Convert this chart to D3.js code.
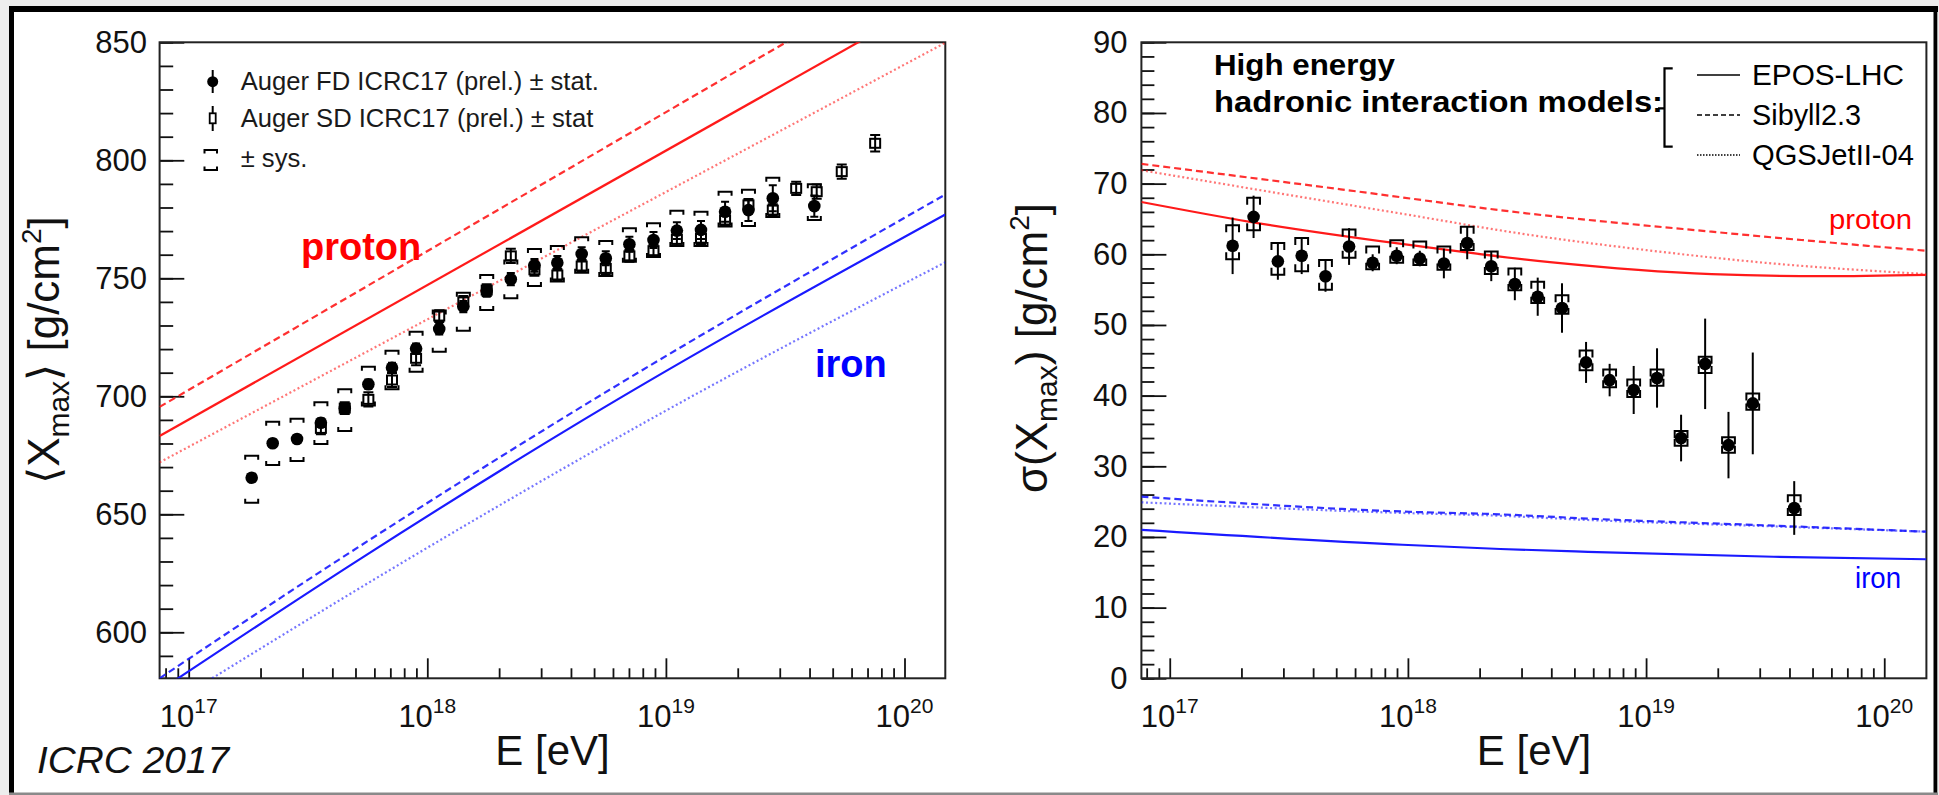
<!DOCTYPE html>
<html><head><meta charset="utf-8">
<script src="https://cdn.jsdelivr.net/npm/d3@7"></script>
<style>
html,body{margin:0;padding:0;background:#fff;}
svg{display:block;}
text{font-family:"Liberation Sans", Arial, Helvetica, sans-serif;}
</style></head><body>
<svg id="c" width="1939" height="795"></svg>
<script>
// ---------------- DATA ----------------
// log10(E/eV) of the FD energy bins (shared by both panels)
const lgE = [17.264,17.352,17.454,17.554,17.654,17.753,17.852,17.953,18.050,18.151,18.249,18.350,18.449,18.545,18.647,18.748,18.847,18.948,19.046,19.147,19.248,19.346,19.448,19.622];
// <Xmax> FD
const fdXmax     = [665.5,680.1,681.9,688.8,694.9,705.1,712.1,720.2,728.5,738.0,744.7,749.6,755.5,756.6,760.3,758.5,764.4,766.2,770.2,770.5,778.2,778.9,783.9,780.6];
const fdXmaxStat = [1.5,1.6,1.7,1.8,2.0,2.0,2.1,2.2,2.3,2.4,2.5,2.6,2.7,2.8,2.9,3.0,3.2,3.4,3.6,3.8,4.2,4.6,5.5,4.5];
const fdXmaxSysUp   = [9.3,9.1,8.6,8.7,8.1,7.4,7.2,7.2,7.8,5.9,6.7,7.9,6.9,7.1,7.1,7.3,6.8,7.1,8.4,7.7,8.5,8.6,8.7,9.2];
const fdXmaxSysDown = [10.6,9.2,9.3,9.0,9.6,9.0,9.1,9.8,9.6,10.2,8.1,8.1,8.8,8.0,7.9,7.5,7.4,7.2,6.5,6.8,6.3,6.7,7.9,5.9];
// <Xmax> SD
const sdLgE  = [17.554,17.654,17.753,17.852,17.953,18.050,18.151,18.249,18.350,18.449,18.545,18.647,18.748,18.847,18.948,19.046,19.147,19.248,19.346,19.448,19.546,19.632,19.737,19.877];
const sdXmax = [686.4,695.0,698.7,706.9,716.1,734.0,740.0,745.0,759.5,753.6,751.4,755.2,754.2,759.5,761.7,766.5,767.0,774.7,781.1,778.9,788.1,786.7,795.2,807.2];
const sdXmaxStat = [2.5,2.5,3.0,3.0,3.0,2.5,2.5,2.5,3.0,2.5,2.5,2.5,2.5,2.5,2.5,2.5,2.5,2.5,2.5,2.5,2.8,3.0,3.0,3.5];
// sigma(Xmax) FD
const fdSigma     = [61.2,65.3,59.0,59.8,56.9,61.1,58.8,59.8,59.4,58.7,61.6,58.3,55.8,54.0,52.4,44.7,42.2,40.8,42.5,34.0,44.5,33.0,38.9,24.1];
const fdSigmaStat = [4.0,3.0,2.6,2.6,2.2,2.6,1.2,1.2,1.1,2.1,2.3,2.1,2.3,2.7,3.5,2.9,2.3,3.4,4.2,3.3,6.4,4.7,7.2,3.8];
const fdSigmaSysUp   = [2.9,2.7,2.6,2.5,2.3,2.4,2.3,2.2,2.4,2.4,2.3,2.1,2.2,2.1,1.8,1.7,1.5,1.5,1.2,1.0,1.0,1.1,1.4,1.8];
const fdSigmaSysDown = [1.9,1.9,1.9,2.2,1.9,1.6,0.9,1.0,0.9,0.9,1.0,1.1,0.9,0.9,0.8,1.1,1.0,1.0,1.1,1.1,1.3,1.1,0.9,1.0];
// model predictions: <Xmax> (pairs of lgE, value)
const xmaxEposP   = [[16.878,683.2],[20.171,870.8]];
const xmaxSibyllP = [[16.878,695.5],[20.171,889.3]];
const xmaxQgsP    = [[16.878,672.0],[20.171,849.8]];
const xmaxEposFe   = [[16.878,575.3],[17.711,630.6],[18.654,690.0],[20.171,777.0]];
const xmaxSibyllFe = [[16.878,580.5],[17.627,630.6],[18.557,690.0],[20.171,785.5]];
const xmaxQgsFe    = [[17.098,580.5],[17.913,630.6],[18.948,691.0],[20.171,756.8]];
// model predictions: sigma(Xmax)
const sigEposP   = [[16.881,67.4],[17.337,64.6],[17.966,61.5],[18.596,58.9],[19.275,57.2],[19.742,56.9],[20.177,57.1]];
const sigSibyllP = [[16.881,72.8],[17.718,69.2],[18.497,65.8],[19.275,63.2],[19.794,61.6],[20.177,60.5]];
const sigQgsP    = [[16.881,71.9],[17.500,68.4],[18.000,65.6],[18.500,62.8],[19.000,60.6],[19.500,58.8],[20.177,57.2]];
const sigEposFe   = [[16.881,21.0],[17.977,18.9],[18.388,18.3],[18.756,17.9],[19.535,17.2],[20.177,16.85]];
const sigSibyllFe = [[16.881,25.7],[17.977,23.6],[18.388,23.2],[18.756,22.6],[19.535,21.6],[20.177,20.75]];
const sigQgsFe    = [[16.881,24.9],[17.977,23.4],[18.388,23.0],[18.756,22.4],[19.535,21.5],[20.177,20.75]];
// tick labels
const xMajorExp = [17,18,19,20];
const xmaxTicks = [600,650,700,750,800,850];
const sigmaTicks = [0,10,20,30,40,50,60,70,80,90];

// ---------------- SETUP ----------------
const W=1939,H=795;
const svg=d3.select("#c");
const FONT='"Liberation Sans", Arial, Helvetica, sans-serif';
svg.append("rect").attr("width",W).attr("height",H).attr("fill","#ededed");
svg.append("rect").attr("x",12).attr("y",10).attr("width",1923).attr("height",783).attr("fill","#fff");
svg.append("rect").attr("x",9).attr("y",6).attr("width",1929).attr("height",6).attr("fill","#000");
svg.append("rect").attr("x",9).attr("y",6).attr("width",5).attr("height",789).attr("fill","#000");
svg.append("rect").attr("x",1933.5).attr("y",6).attr("width",3.8).attr("height",789).attr("fill","#000");
svg.append("rect").attr("x",9).attr("y",792.5).attr("width",1929).attr("height",2.5).attr("fill","#8a8a8a");

const RED="#ff1a1a", BLUE="#1a1aff";
const styles = {
  solid:  {dash:null, w:2.2, op:1},
  dashed: {dash:"7,4", w:2.2, op:0.9},
  dotted: {dash:"2,2.6", w:2.2, op:0.6}
};

function makePanel(p){
  const g=svg.append("g");
  const x=d3.scaleLog().domain([10**p.lx0,10**p.lx1]).range([p.x0,p.x1]);
  const y=d3.scaleLinear().domain(p.yd).range([p.y1,p.y0]);
  const clipId="clip"+p.id;
  svg.append("clipPath").attr("id",clipId).append("rect")
     .attr("x",p.x0).attr("y",p.y0).attr("width",p.x1-p.x0).attr("height",p.y1-p.y0);
  const majors = xMajorExp.map(e=>10**e);
  const minors=[];
  for(let e=16;e<=20;e++) for(let k=2;k<=9;k++){const v=k*10**e; if(v>=10**p.lx0 && v<=10**p.lx1) minors.push(v);}
  const ax=g.append("g").attr("transform",`translate(0,${p.y1})`);
  ax.call(d3.axisBottom(x).tickValues(majors).tickSize(-20).tickSizeOuter(0).tickFormat(()=>""));
  ax.append("g").call(d3.axisBottom(x).tickValues(minors).tickSize(-10).tickSizeOuter(0).tickFormat(()=>""));
  const ay=g.append("g").attr("transform",`translate(${p.x0},0)`);
  ay.call(d3.axisLeft(y).tickValues(p.yTicks).tickSize(-p.majorLen).tickSizeOuter(0).tickPadding(p.labPad).tickFormat(d3.format("d")));
  ay.append("g").call(d3.axisLeft(y).tickValues(d3.range(Math.ceil(p.yd[0]/p.yMinor)*p.yMinor,p.yd[1]+0.001,p.yMinor)).tickSize(-p.minorLen).tickSizeOuter(0).tickFormat(()=>""));
  g.selectAll(".domain").remove();
  g.selectAll(".tick line").attr("stroke","#111").attr("stroke-width",1.8);
  ay.selectAll(".tick text").attr("font-family",FONT).attr("font-size",31).attr("fill","#111");
  xMajorExp.forEach(e=>{
    const t=g.append("text").attr("x",x(10**e)).attr("y",727).attr("text-anchor","middle")
      .attr("font-size",31).attr("fill","#111");
    t.append("tspan").text("10");
    t.append("tspan").attr("font-size",21).attr("dy",-14).text(String(e));
  });
  g.append("rect").attr("x",p.x0).attr("y",p.y0).attr("width",p.x1-p.x0).attr("height",p.y1-p.y0)
    .attr("fill","none").attr("stroke","#222").attr("stroke-width",2);
  const line=d3.line().x(d=>x(10**d[0])).y(d=>y(d[1])).curve(d3.curveMonotoneX);
  const lg=g.append("g").attr("clip-path",`url(#${clipId})`);
  p.models.forEach(m=>{
    const s=styles[m.style];
    lg.append("path").datum(m.data).attr("d",line).attr("fill","none")
      .attr("stroke",m.color).attr("stroke-width",s.w).attr("stroke-opacity",s.op)
      .attr("stroke-dasharray",s.dash);
  });
  return {g,x,y,lg};
}

// ---------------- LEFT PANEL ----------------
const L=makePanel({id:"L",x0:159.6,x1:945.3,y0:42.3,y1:678.3,lx0:16.878,lx1:20.171,
  yd:[580.5,850],yTicks:xmaxTicks,yMinor:10,majorLen:24.7,minorLen:13.6,labPad:12.6,
  models:[
    {data:xmaxEposP,color:RED,style:"solid"},{data:xmaxSibyllP,color:RED,style:"dashed"},{data:xmaxQgsP,color:RED,style:"dotted"},
    {data:xmaxEposFe,color:BLUE,style:"solid"},{data:xmaxSibyllFe,color:BLUE,style:"dashed"},{data:xmaxQgsFe,color:BLUE,style:"dotted"}
  ]});
{
  const {g,x,y}=L;
  const dg=g.append("g").attr("stroke","#000").attr("stroke-width",2).attr("fill","none");
  lgE.forEach((e,i)=>{
    const cx=x(10**e), hw=6.5, tk=4;
    const yt=y(fdXmax[i]+fdXmaxSysUp[i]), yb=y(fdXmax[i]-fdXmaxSysDown[i]);
    dg.append("path").attr("d",`M${cx-hw},${yt+tk}V${yt}H${cx+hw}V${yt+tk}`);
    dg.append("path").attr("d",`M${cx-hw},${yb-tk}V${yb}H${cx+hw}V${yb-tk}`);
  });
  lgE.forEach((e,i)=>{
    const cx=x(10**e), cy=y(fdXmax[i]);
    const y1=y(fdXmax[i]+fdXmaxStat[i]), y2=y(fdXmax[i]-fdXmaxStat[i]);
    dg.append("path").attr("d",`M${cx},${y1}V${y2}M${cx-4},${y1}H${cx+4}M${cx-4},${y2}H${cx+4}`);
    dg.append("circle").attr("cx",cx).attr("cy",cy).attr("r",6.3).attr("fill","#000").attr("stroke","none");
  });
  sdLgE.forEach((e,i)=>{
    const cx=x(10**e), cy=y(sdXmax[i]);
    const y1=y(sdXmax[i]+sdXmaxStat[i]), y2=y(sdXmax[i]-sdXmaxStat[i]);
    dg.append("path").attr("d",`M${cx},${y1}V${y2}M${cx-5},${y1}H${cx+5}M${cx-5},${y2}H${cx+5}`);
    dg.append("rect").attr("x",cx-5).attr("y",cy-4.5).attr("width",10).attr("height",9).attr("fill","none");
  });
  const lgd=g.append("g");
  lgd.append("line").attr("x1",212.7).attr("x2",212.7).attr("y1",70).attr("y2",93).attr("stroke","#000").attr("stroke-width",2);
  lgd.append("circle").attr("cx",212.7).attr("cy",81.7).attr("r",5.5).attr("fill","#000");
  lgd.append("line").attr("x1",212.7).attr("x2",212.7).attr("y1",106).attr("y2",131).attr("stroke","#000").attr("stroke-width",2);
  lgd.append("rect").attr("x",209.7).attr("y",113.3).attr("width",6).attr("height",10).attr("fill","#fff").attr("stroke","#000").attr("stroke-width",1.8);
  lgd.append("path").attr("d","M204.5,153.5V150H217V153.5M204.5,166.5V170H217V166.5").attr("fill","none").attr("stroke","#000").attr("stroke-width",2);
  const lt=[["Auger FD ICRC17 (prel.) \u00b1 stat.",90],["Auger SD ICRC17 (prel.) \u00b1 stat",127.3],["\u00b1 sys.",166.7]];
  lt.forEach(([t,yy])=>lgd.append("text").attr("x",240.7).attr("y",yy).attr("font-size",25.6).attr("fill","#1a1a1a").text(t));
  g.append("text").attr("x",301).attr("y",260).attr("font-size",38).attr("font-weight","bold").attr("fill","#ff0000").text("proton");
  g.append("text").attr("x",815).attr("y",377).attr("font-size",38).attr("font-weight","bold").attr("fill","#0000ff").text("iron");
  g.append("text").attr("x",552.5).attr("y",765).attr("text-anchor","middle").attr("font-size",42).attr("fill","#111").text("E [eV]");
  const yt=g.append("text").attr("transform","translate(59,350) rotate(-90)").attr("text-anchor","middle").attr("font-size",44).attr("fill","#111");
  yt.append("tspan").text("\u27e8X");
  yt.append("tspan").attr("font-size",30).attr("dy",10).text("max");
  yt.append("tspan").attr("dy",-10).text("\u27e9 [g/cm");
  yt.append("tspan").attr("font-size",28).attr("dy",-18).text("2");
  yt.append("tspan").attr("dy",18).text("]");
}

// ---------------- RIGHT PANEL ----------------
const R=makePanel({id:"R",x0:1141.4,x1:1926.4,y0:42.3,y1:678.3,lx0:16.881,lx1:20.177,
  yd:[0,90],yTicks:sigmaTicks,yMinor:2,majorLen:25,minorLen:13,labPad:13.8,
  models:[
    {data:sigEposP,color:RED,style:"solid"},{data:sigSibyllP,color:RED,style:"dashed"},{data:sigQgsP,color:RED,style:"dotted"},
    {data:sigEposFe,color:BLUE,style:"solid"},{data:sigSibyllFe,color:BLUE,style:"dashed"},{data:sigQgsFe,color:BLUE,style:"dotted"}
  ]});
{
  const {g,x,y}=R;
  const dg=g.append("g").attr("stroke","#000").attr("stroke-width",2).attr("fill","none");
  lgE.forEach((e,i)=>{
    const cx=x(10**e), cy=y(fdSigma[i]), hw=6.4;
    const yt=y(fdSigma[i]+fdSigmaSysUp[i]), yb=y(fdSigma[i]-fdSigmaSysDown[i]);
    const tkT=Math.min(7,cy-yt), tkB=Math.min(7,yb-cy);
    dg.append("path").attr("d",`M${cx-hw},${yt+tkT}V${yt}H${cx+hw}V${yt+tkT}`);
    dg.append("path").attr("d",`M${cx-hw},${yb-tkB}V${yb}H${cx+hw}V${yb-tkB}`);
    dg.append("path").attr("d",`M${cx},${y(fdSigma[i]+fdSigmaStat[i])}V${y(fdSigma[i]-fdSigmaStat[i])}`);
    dg.append("circle").attr("cx",cx).attr("cy",cy).attr("r",6.3).attr("fill","#000").attr("stroke","none");
  });
  g.append("text").attr("x",1214).attr("y",75).attr("font-size",30).attr("font-weight","bold").attr("fill","#000")
    .attr("textLength",181).attr("lengthAdjust","spacingAndGlyphs").text("High energy");
  g.append("text").attr("x",1214).attr("y",111.5).attr("font-size",30).attr("font-weight","bold").attr("fill","#000")
    .attr("textLength",449).attr("lengthAdjust","spacingAndGlyphs").text("hadronic interaction models:");
  g.append("path").attr("d","M1672.7,68.3H1664.5V146.7H1672.7M1658,108.3H1664.5").attr("fill","none").attr("stroke","#000").attr("stroke-width",2.2);
  const names=[["EPOS-LHC","solid",152],["Sibyll2.3","dashed",109],["QGSJetII-04","dotted",162]];
  names.forEach(([n,st],k)=>{
    const yy=75+40*k, tl=names[k][2];
    g.append("line").attr("x1",1697).attr("x2",1740).attr("y1",yy).attr("y2",yy).attr("stroke","#000")
      .attr("stroke-width",1.6).attr("stroke-dasharray",st==="solid"?null:(st==="dashed"?"5,3":"1.5,1.5"));
    g.append("text").attr("x",1752).attr("y",yy+10).attr("font-size",29).attr("fill","#000")
      .attr("textLength",tl).attr("lengthAdjust","spacingAndGlyphs").text(n);
  });
  g.append("text").attr("x",1829).attr("y",229).attr("font-size",28).attr("fill","#ff0000")
    .attr("textLength",83).attr("lengthAdjust","spacingAndGlyphs").text("proton");
  g.append("text").attr("x",1855).attr("y",588).attr("font-size",29).attr("fill","#0000ff")
    .attr("textLength",46).attr("lengthAdjust","spacingAndGlyphs").text("iron");
  g.append("text").attr("x",1534).attr("y",765).attr("text-anchor","middle").attr("font-size",42).attr("fill","#111").text("E [eV]");
  const yt=g.append("text").attr("transform","translate(1047,348) rotate(-90)").attr("text-anchor","middle").attr("font-size",44).attr("fill","#111");
  yt.append("tspan").text("\u03c3(X");
  yt.append("tspan").attr("font-size",30).attr("dy",10).text("max");
  yt.append("tspan").attr("dy",-10).text(") [g/cm");
  yt.append("tspan").attr("font-size",28).attr("dy",-18).text("2");
  yt.append("tspan").attr("dy",18).text("]");
}
svg.append("text").attr("x",37).attr("y",773).attr("font-size",37).attr("font-style","italic").attr("fill","#111")
  .attr("textLength",192).attr("lengthAdjust","spacingAndGlyphs").text("ICRC 2017");
</script></body></html>
